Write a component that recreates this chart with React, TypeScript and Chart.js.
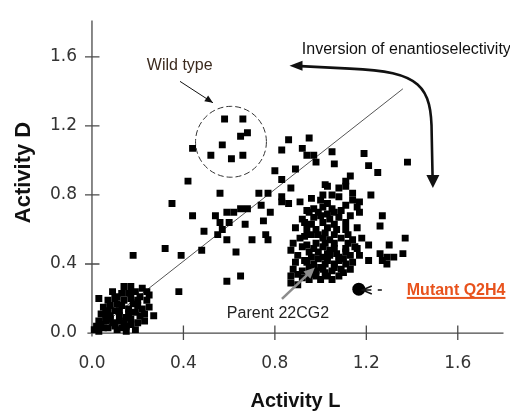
import React, { useEffect, useRef } from "react";
import { Chart, registerables } from "chart.js";
Chart.register(...registerables);

// ---- data ----
const xTicks = [0, 0.4, 0.8, 1.2, 1.6];
const yTicks = [0, 0.4, 0.8, 1.2, 1.6];

const wildTypeL = [0.58, 0.66, 0.68, 0.65, 0.57, 0.52, 0.61, 0.66];
const wildTypeD = [1.24, 1.24, 1.16, 1.14, 1.09, 1.03, 1.01, 1.03];

const lowClusterL = [0.14, 0.17, 0.22, 0.24, 0.10, 0.07, 0.05, 0.04, 0.08, 0.12, 0.17, 0.20, 0.24, 0.25, 0.27, 0.21, 0.15, 0.09, 0.05, 0.03, 0.11, 0.17, 0.20, 0.14, 0.08, 0.11, 0.14, 0.13, 0.09, 0.06, 0.07, 0.01, 0.03, 0.10, 0.16, 0.19, 0.22, 0.23, 0.13, 0.17, 0.21, 0.19, 0.03, 0.25, 0.15, 0.19, 0.12, 0.06, 0.02, 0.04, 0.08, 0.12, 0.16, 0.20, 0.18, 0.13, 0.06, 0.10, 0.15, 0.23, 0.11, 0.16, 0.07];
const lowClusterD = [0.27, 0.27, 0.26, 0.24, 0.20, 0.19, 0.15, 0.11, 0.10, 0.13, 0.20, 0.19, 0.19, 0.15, 0.10, 0.10, 0.09, 0.06, 0.03, 0.01, 0.02, 0.05, 0.06, 0.06, 0.16, 0.17, 0.19, 0.23, 0.24, 0.07, 0.03, 0.02, 0.07, 0.13, 0.14, 0.12, 0.14, 0.07, 0.03, 0.08, 0.21, 0.24, 0.20, 0.22, 0.01, 0.02, 0.10, 0.12, 0.04, 0.05, 0.08, 0.07, 0.11, 0.16, 0.17, 0.16, 0.09, 0.04, 0.04, 0.11, 0.21, 0.23, 0.13];

const scatteredL = [0.44, 0.80, 0.86, 0.95, 0.83, 0.92, 0.94, 0.97, 1.05, 0.98, 1.06, 1.19, 1.21, 1.25, 1.38, 0.89, 0.42, 0.56, 0.83, 0.73, 0.77, 0.74, 0.83, 0.83, 0.87, 0.44, 0.59, 0.62, 0.65, 0.68, 0.54, 0.78, 0.56, 0.60, 0.67, 0.75, 0.49, 0.57, 0.55, 0.76, 0.59, 0.70, 0.77, 0.48, 0.39, 0.63, 0.65, 0.59, 0.35, 0.18, 0.32, 0.38];
const scatteredD = [1.07, 0.94, 1.12, 1.13, 1.06, 1.07, 1.03, 1.03, 1.05, 0.99, 0.98, 1.04, 0.97, 0.93, 0.99, 0.95, 0.88, 0.81, 0.89, 0.81, 0.81, 0.74, 0.79, 0.76, 0.84, 0.68, 0.70, 0.70, 0.72, 0.72, 0.68, 0.70, 0.64, 0.64, 0.63, 0.65, 0.59, 0.60, 0.57, 0.57, 0.54, 0.54, 0.54, 0.48, 0.45, 0.47, 0.33, 0.30, 0.75, 0.45, 0.49, 0.24];

const highClusterL = [1.13, 1.11, 1.02, 1.03, 1.08, 1.11, 1.22, 1.01, 1.05, 1.08, 1.14, 1.14, 1.17, 0.86, 0.91, 1.03, 0.94, 0.97, 1.01, 1.05, 1.11, 1.16, 0.92, 0.97, 1.00, 1.04, 1.08, 1.13, 1.17, 1.27, 1.26, 0.89, 0.94, 0.98, 1.03, 1.07, 1.11, 1.16, 1.37, 0.91, 0.96, 1.01, 1.04, 1.09, 1.14, 1.18, 1.21, 1.30, 1.26, 1.29, 1.32, 1.36, 0.87, 0.97, 1.01, 1.06, 1.11, 1.16, 0.96, 1.01, 1.04, 1.08, 1.13, 1.17, 0.89, 0.93, 0.97, 1.02, 1.06, 1.11, 1.14, 1.21, 1.27, 1.29, 0.88, 0.92, 0.97, 1.01, 1.05, 1.09, 1.13, 0.87, 0.92, 0.98, 1.03, 1.08, 0.99, 1.03, 1.00, 0.95, 1.04, 1.08, 1.02, 1.06, 0.98, 0.94, 1.11, 0.96, 0.93, 0.95, 1.06, 1.02, 1.11, 1.15, 0.87, 0.90, 0.90, 0.92, 0.95, 0.99, 1.03, 1.07, 1.10, 0.94, 0.98, 1.02, 1.06, 1.10, 0.90, 0.95, 1.00, 1.05, 0.93, 0.99, 1.06, 1.12, 0.96, 1.01, 1.06, 0.99, 1.03, 1.09, 1.00, 0.96, 1.12, 0.88];
const highClusterD = [0.91, 0.88, 0.86, 0.85, 0.84, 0.85, 0.80, 0.80, 0.80, 0.79, 0.81, 0.77, 0.76, 0.75, 0.76, 0.75, 0.71, 0.72, 0.73, 0.72, 0.74, 0.73, 0.66, 0.67, 0.68, 0.66, 0.67, 0.68, 0.70, 0.68, 0.62, 0.61, 0.60, 0.60, 0.61, 0.60, 0.60, 0.61, 0.55, 0.55, 0.57, 0.55, 0.54, 0.55, 0.54, 0.55, 0.51, 0.51, 0.46, 0.44, 0.44, 0.46, 0.48, 0.49, 0.50, 0.49, 0.49, 0.49, 0.44, 0.44, 0.45, 0.44, 0.45, 0.45, 0.41, 0.42, 0.40, 0.40, 0.40, 0.40, 0.41, 0.42, 0.42, 0.40, 0.37, 0.36, 0.37, 0.37, 0.36, 0.37, 0.37, 0.33, 0.32, 0.33, 0.33, 0.33, 0.47, 0.42, 0.38, 0.38, 0.48, 0.42, 0.52, 0.52, 0.52, 0.51, 0.47, 0.34, 0.64, 0.70, 0.70, 0.58, 0.64, 0.50, 0.29, 0.28, 0.45, 0.50, 0.47, 0.43, 0.46, 0.46, 0.43, 0.41, 0.36, 0.35, 0.38, 0.35, 0.34, 0.31, 0.31, 0.31, 0.56, 0.57, 0.57, 0.57, 0.63, 0.64, 0.63, 0.70, 0.69, 0.71, 0.77, 0.78, 0.52, 0.52];

const mutantL = [1.167];
const mutantD = [0.254];

const diagonalL = [0, 1.36];
const diagonalD = [0, 1.415];

const pairs = (L: number[], D: number[]) => L.map((v, i) => ({ x: v, y: D[i] }));

const labels = {
  xTitle: "Activity L",
  yTitle: "Activity D",
  inversion: "Inversion of enantioselectivity",
  wild: "Wild type",
  parent: "Parent 22CG2",
  mutant: "Mutant Q2H4",
};

const FONT = "'Liberation Sans', Arial, sans-serif";

function head(ctx: CanvasRenderingContext2D, tx: number, ty: number, ang: number, len: number, half: number) {
  ctx.beginPath();
  ctx.moveTo(tx, ty);
  ctx.lineTo(tx - len * Math.cos(ang) + half * Math.sin(ang), ty - len * Math.sin(ang) - half * Math.cos(ang));
  ctx.lineTo(tx - len * Math.cos(ang) - half * Math.sin(ang), ty - len * Math.sin(ang) + half * Math.cos(ang));
  ctx.closePath();
  ctx.fill();
}

const axesPlugin = {
  id: "crossAxes",
  beforeDatasetsDraw(chart: any) {
    const { ctx, scales } = chart;
    const xs = scales.x, ys = scales.y;
    const x0 = xs.getPixelForValue(0), y0 = ys.getPixelForValue(0);
    ctx.save();
    ctx.strokeStyle = "#4a4a4a";
    ctx.lineWidth = 1.3;
    ctx.beginPath();
    ctx.moveTo(xs.left, y0);
    ctx.lineTo(xs.right, y0);
    ctx.moveTo(x0, ys.top);
    ctx.lineTo(x0, ys.bottom);
    xTicks.forEach((v) => {
      if (v === 0) return;
      const p = xs.getPixelForValue(v);
      ctx.moveTo(p, y0 - 7.5);
      ctx.lineTo(p, y0 + 7);
    });
    yTicks.forEach((v) => {
      if (v === 0) return;
      const p = ys.getPixelForValue(v);
      ctx.moveTo(x0 - 7, p);
      ctx.lineTo(x0 + 7.5, p);
    });
    ctx.stroke();

    // y-axis title, rotated
    ctx.fillStyle = "#111";
    ctx.font = `bold 22px ${FONT}`;
    ctx.textAlign = "center";
    ctx.textBaseline = "middle";
    ctx.translate(24, ys.getPixelForValue(0.93));
    ctx.rotate(-Math.PI / 2);
    ctx.fillText(labels.yTitle, 0, 0);
    ctx.restore();
  },
};

const annotationPlugin = {
  id: "annotations",
  afterDatasetsDraw(chart: any) {
    const { ctx, scales } = chart;
    const X = (v: number) => scales.x.getPixelForValue(v);
    const Y = (v: number) => scales.y.getPixelForValue(v);
    ctx.save();

    // dashed circle around wild type
    const cx = X(0.608), cy = Y(1.108);
    const r = X(0.608 + 0.155) - cx;
    ctx.strokeStyle = "#333";
    ctx.lineWidth = 1;
    ctx.setLineDash([6, 3]);
    ctx.beginPath();
    ctx.arc(cx, cy, r, 0, Math.PI * 2);
    ctx.stroke();
    ctx.setLineDash([]);

    // Wild type label and arrow
    ctx.fillStyle = "#3b2a1e";
    ctx.font = `16px ${FONT}`;
    ctx.textBaseline = "alphabetic";
    ctx.fillText(labels.wild, X(0.24), Y(1.521));
    ctx.strokeStyle = "#111";
    ctx.fillStyle = "#111";
    ctx.lineWidth = 1;
    const wx1 = X(0.385), wy1 = Y(1.458), wx2 = X(0.529), wy2 = Y(1.334);
    ctx.beginPath();
    ctx.moveTo(wx1, wy1);
    ctx.lineTo(wx2, wy2);
    ctx.stroke();
    head(ctx, wx2, wy2, Math.atan2(wy2 - wy1, wx2 - wx1), 8, 3.5);

    // inversion label
    ctx.fillStyle = "#111";
    ctx.font = `16px ${FONT}`;
    ctx.fillText(labels.inversion, X(0.918), Y(1.614));

    // curved arrow
    ctx.strokeStyle = "#111";
    ctx.lineWidth = 2.6;
    ctx.beginPath();
    ctx.moveTo(X(0.89), Y(1.548));
    ctx.lineTo(X(1.128), Y(1.532));
    ctx.bezierCurveTo(X(1.44), Y(1.515), X(1.486), Y(1.43), X(1.486), Y(1.148));
    ctx.lineTo(X(1.49), Y(0.89));
    ctx.stroke();
    ctx.fillStyle = "#111";
    head(ctx, X(0.864), Y(1.549), Math.PI, 13, 5);
    head(ctx, X(1.491), Y(0.84), Math.PI / 2, 13, 6.5);

    // parent label and arrow
    ctx.fillStyle = "#222";
    ctx.font = `16px ${FONT}`;
    ctx.fillText(labels.parent, X(0.59), Y(0.085));
    const px1 = X(0.831), py1 = Y(0.198), px2 = X(0.975), py2 = Y(0.379);
    const pa = Math.atan2(py2 - py1, px2 - px1);
    ctx.strokeStyle = "#8c8c8c";
    ctx.fillStyle = "#8c8c8c";
    ctx.lineWidth = 2.6;
    ctx.beginPath();
    ctx.moveTo(px1, py1);
    ctx.lineTo(px2 - 8 * Math.cos(pa), py2 - 8 * Math.sin(pa));
    ctx.stroke();
    head(ctx, px2, py2, pa, 11, 5);

    // mutant arrow "<--"
    ctx.strokeStyle = "#111";
    ctx.lineWidth = 1.5;
    const my = Y(0.249);
    ctx.beginPath();
    ctx.moveTo(X(1.224), my - 4);
    ctx.lineTo(X(1.182), my);
    ctx.lineTo(X(1.224), my + 4);
    ctx.moveTo(X(1.19), my);
    ctx.lineTo(X(1.222), my);
    ctx.moveTo(X(1.25), my);
    ctx.lineTo(X(1.268), my);
    ctx.stroke();

    // mutant label
    ctx.fillStyle = "#e8521c";
    ctx.font = `bold 16px ${FONT}`;
    const mx = X(1.377), mby = Y(0.22);
    ctx.fillText(labels.mutant, mx, mby);
    const w = ctx.measureText(labels.mutant).width;
    ctx.fillRect(mx, Y(0.2035) - 1, w, 2);

    ctx.restore();
  },
};

export default function App() {
  const ref = useRef<HTMLCanvasElement>(null);
  useEffect(() => {
    const canvas = ref.current!;
    const sq = { pointStyle: "rect", pointRadius: 4.9, pointHoverRadius: 4.9, backgroundColor: "#000", borderColor: "#000", borderWidth: 0 };
    const chart = new Chart(canvas, {
      type: "scatter",
      data: {
        datasets: [
          { label: "Wild type", data: pairs(wildTypeL, wildTypeD), ...sq },
          { label: "Low activity", data: pairs(lowClusterL, lowClusterD), ...sq },
          { label: "Variants", data: pairs(scatteredL, scatteredD), ...sq },
          { label: "Parent cluster", data: pairs(highClusterL, highClusterD), ...sq },
          { label: "Mutant Q2H4", data: pairs(mutantL, mutantD), pointStyle: "circle", pointRadius: 6.5, backgroundColor: "#000", borderWidth: 0 },
          { label: "Diagonal", data: pairs(diagonalL, diagonalD), showLine: true, pointRadius: 0, borderColor: "#555", borderWidth: 1, fill: false },
        ] as any,
      },
      options: {
        responsive: false,
        animation: false,
        layout: { padding: { left: 0, top: 12.8, right: 6.25, bottom: 0 } },
        plugins: { legend: { display: false }, tooltip: { enabled: false } },
        scales: {
          x: {
            type: "linear",
            min: -0.02,
            max: 1.8,
            grid: { display: false, drawTicks: false },
            border: { display: false },
            afterFit: (s: any) => { s.height = 74.5; },
            afterBuildTicks: (s: any) => { s.ticks = xTicks.map((v) => ({ value: v })); },
            ticks: { padding: 17, color: "#333", font: { family: "'DejaVu Sans'", size: 17 }, callback: (v: any) => Number(v).toFixed(1) },
            title: { display: true, text: labels.xTitle, color: "#111", font: { family: FONT, weight: "bold", size: 20, lineHeight: 1.1 }, padding: { top: 0, bottom: -1 } },
          },
          y: {
            type: "linear",
            min: -0.02,
            max: 1.81,
            grid: { display: false, drawTicks: false },
            border: { display: false },
            afterFit: (s: any) => { s.width = 87.4; },
            afterBuildTicks: (s: any) => { s.ticks = yTicks.map((v) => ({ value: v })); },
            ticks: { padding: 10.4, color: "#333", font: { family: "'DejaVu Sans'", size: 17 }, callback: (v: any) => Number(v).toFixed(1) },
            title: { display: false },
          },
        },
      } as any,
      plugins: [axesPlugin, annotationPlugin],
    });
    return () => chart.destroy();
  }, []);
  return (
    <div style={{ position: "fixed", left: 0, top: 0, width: 510, height: 411, background: "#fff" }}>
      <canvas ref={ref} width={510} height={411} style={{ display: "block", width: 510, height: 411 }} />
    </div>
  );
}
